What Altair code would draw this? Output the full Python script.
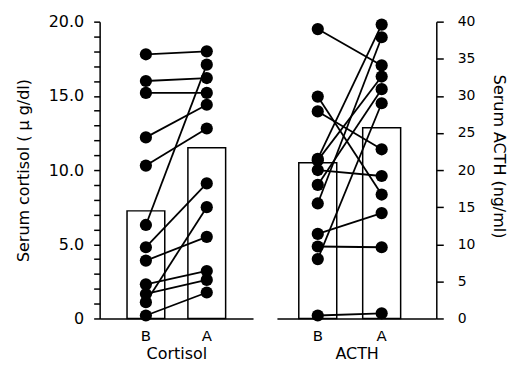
import altair as alt
import pandas as pd

phases = ["B", "A"]

cortisol_before = [17.8, 16.0, 15.2, 12.2, 10.3, 6.3, 4.8, 3.9, 2.3, 1.65, 1.1, 0.2]
cortisol_after = [18.0, 16.2, 15.2, 14.4, 12.8, 17.1, 9.1, 5.5, 3.2, 2.6, 7.5, 1.75]
cortisol_bars = [7.25, 11.5]

acth_before = [39.0, 29.9, 27.9, 21.5, 21.3, 20.0, 18.0, 15.5, 11.4, 9.7, 8.0, 0.4]
acth_after = [34.1, 16.7, 22.8, 39.6, 32.6, 19.2, 30.9, 37.9, 14.2, 9.6, 29.0, 0.7]
acth_bars = [21.0, 25.7]

FONT = "DejaVu Sans"


def pairs_df(before, after):
    rows = []
    for i, (b, a) in enumerate(zip(before, after)):
        rows.append({"pair": i, "phase": "B", "value": b})
        rows.append({"pair": i, "phase": "A", "value": a})
    return pd.DataFrame(rows)


def panel(before, after, bars, title, ymax, ytitle, orient, width,
          pad_inner, pad_outer, align, label_expr, tick_vals, tick_size,
          label_pad, title_pad, label_size, title_y=None):
    pdf = pairs_df(before, after)
    bdf = pd.DataFrame({"phase": phases, "value": bars})
    xscale = alt.Scale(domain=phases, paddingInner=pad_inner,
                       paddingOuter=pad_outer, align=align)
    xaxis = alt.Axis(title=title, labelAngle=0, ticks=False,
                     domainColor="black", domainWidth=1.5,
                     labelPadding=10, titlePadding=2,
                     labelFont=FONT, titleFont=FONT,
                     labelFontSize=15, titleFontSize=16,
                     titleFontWeight="normal", labelColor="black",
                     titleColor="black")
    axis_kw = dict(title=ytitle, orient=orient, values=tick_vals,
                   labelExpr=label_expr, labelOverlap=False, grid=False,
                   domainColor="black", domainWidth=1.5, tickColor="black",
                   tickWidth=1.5, tickSize=tick_size, labelPadding=label_pad,
                   titlePadding=title_pad, labelFont=FONT, titleFont=FONT,
                   labelFontSize=label_size, titleFontSize=16,
                   titleFontWeight="normal", labelColor="black",
                   titleColor="black")
    if title_y is not None:
        axis_kw["titleY"] = title_y
    yaxis = alt.Axis(**axis_kw)
    yscale = alt.Scale(domain=[0, ymax], nice=False)
    x = alt.X("phase:N", sort=phases, scale=xscale, axis=xaxis)
    y = alt.Y("value:Q", scale=yscale, axis=yaxis)
    bar = alt.Chart(bdf).mark_bar(fill="white", stroke="black",
                                  strokeWidth=1.5).encode(x=x, y=y)
    lines = alt.Chart(pdf).mark_line(color="black", strokeWidth=1.8).encode(
        x=x, y=y, detail="pair:N")
    pts = alt.Chart(pdf).mark_circle(color="black", opacity=1, size=150).encode(
        x=x, y=y)
    return alt.layer(bar, lines, pts).properties(width=width, height=298)


left = panel(cortisol_before, cortisol_after, cortisol_bars, "Cortisol", 20,
             "Serum cortisol ( μ g/dl)", "left", 154, 0.38, 0.45, 0.5,
             "datum.value == 0 ? '0' : (datum.value % 5 == 0 ? format(datum.value, '.1f') : '')",
             list(range(0, 21)), 6, 10, 17, 16)
right = panel(acth_before, acth_after, acth_bars, "ACTH", 40,
              "Serum ACTH (ng/ml)", "right", 160, 0.406, 0.45, 0.38,
              "format(datum.value, 'd')",
              list(range(0, 41, 5)), 7, 14, 16, 14, title_y=135)

chart = alt.hconcat(left, right, spacing=24).configure_view(
    stroke=None).properties(
    background="white",
    padding={"left": 7, "top": 5, "right": 5, "bottom": 0})

chart.save("out.html", embed_options={"renderer": "svg", "actions": False})
